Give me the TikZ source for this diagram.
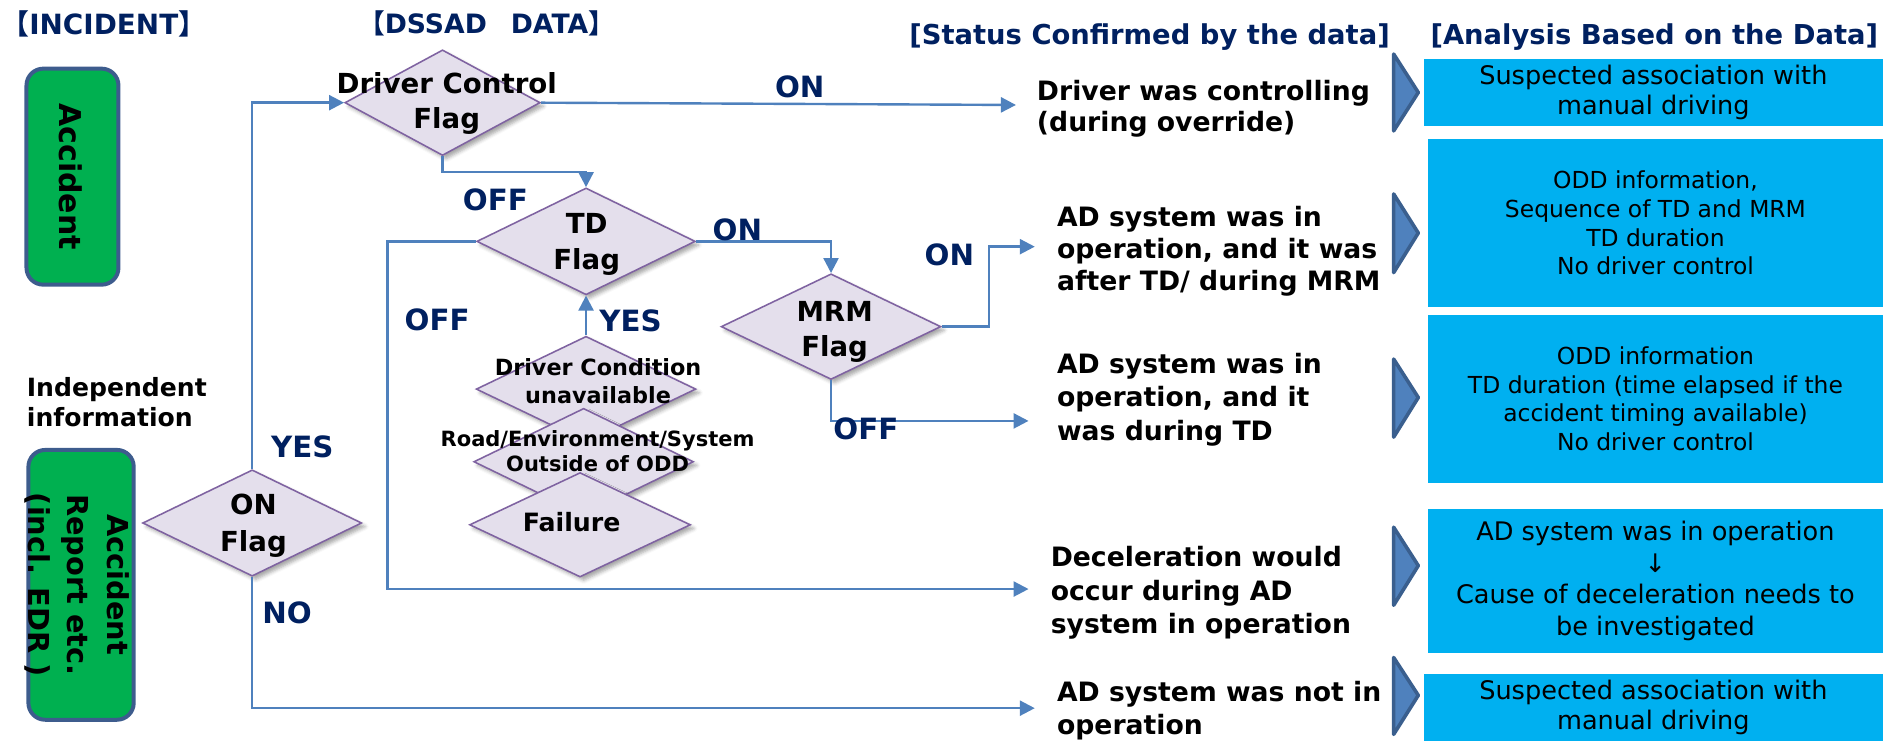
\documentclass[tikz,border=0pt]{standalone}
\usepackage{fontspec}
\setmainfont{DejaVu Sans}
\newfontfamily\cjk{Noto Sans CJK JP}
\usetikzlibrary{arrows.meta,shapes.geometric,shadows.blur}
\definecolor{navy}{HTML}{002060}
\definecolor{lineblue}{HTML}{4F81BD}
\definecolor{diafill}{HTML}{E4DFEC}
\definecolor{diaborder}{HTML}{7F63A1}
\definecolor{accgreen}{HTML}{00B050}
\definecolor{accborder}{HTML}{3D5C8D}
\definecolor{cyanbox}{HTML}{00B0F0}
\definecolor{chevfill}{HTML}{4F81BD}
\definecolor{chevborder}{HTML}{3A5F8E}
\newcommand{\fs}[2]{\fontsize{#1}{#2}\selectfont}
\begin{document}
\begin{tikzpicture}[x=1pt,y=-1pt,
  conn/.style={draw=lineblue,line width=2pt},
  arr/.style={conn,-{Triangle[length=12.5pt,width=12.5pt]}},
  dia/.style={diamond,draw=diaborder,fill=diafill,line width=1.3pt,inner sep=0pt,
     blur shadow={shadow xshift=3pt,shadow yshift=-3pt,shadow blur radius=3pt,shadow opacity=35}},
  dlab/.style={align=center,anchor=base,inner sep=0pt},
  flab/.style={text=navy,font=\bfseries\fs{24.4}{28},anchor=base,inner sep=0pt},
  stat/.style={font=\bfseries\fs{22.2}{27},align=left,anchor=base west,inner sep=0pt},
  abox/.style={fill=cyanbox,inner sep=0pt,align=center},
  chev/.style={fill=chevfill,draw=chevborder,line width=3pt,line join=round},
  accbox/.style={fill=accgreen,draw=accborder,line width=3.3pt,rounded corners=14pt,inner sep=0pt},
  title/.style={text=navy,font=\bfseries\fs{22.8}{27},anchor=base west,inner sep=0pt}
]
\useasboundingbox (0,0) rectangle (1568,619);

% titles
\node[title,font=\bfseries\fs{23.2}{27}] (tinc) at (1,29) {{\cjk 【}INCIDENT{\cjk 】}};
\node[title,font=\bfseries\fs{22.2}{27}] (tdss) at (298,27.8) {{\cjk 【}DSSAD\hspace{0.9em}DATA{\cjk 】}};
\node[title] (tstat) at (757,37) {[Status Confirmed by the data]};
\node[title] (tana) at (1191,37) {[Analysis Based on the Data]};

% incident boxes
\node[accbox,minimum width=76.6pt,minimum height=179.9pt] (acc) at (60.35,147.1) {};
\node[rotate=-90,font=\bfseries\fs{25}{30},inner sep=0pt] (acct) at (58.6,147) {Accident};
\node[accbox,minimum width=87.7pt,minimum height=224.7pt] (rep) at (67.5,487) {};
\node[rotate=-90,font=\bfseries\fs{24}{33},align=center,inner sep=0pt] (rept) at (64,487) {Accident\\Report etc.\\(incl. EDR )};
\node[font=\bfseries\fs{20.9}{25.5},align=left,anchor=base west,inner sep=0pt] (indep) at (22.2,355.3) {Independent\\information};

% diamonds
\node[dia,minimum width=182.5pt,minimum height=88.6pt] (on) at (210,435.5) {};
\node[dia,minimum width=162.7pt,minimum height=88pt] (dc) at (368.5,85.5) {};
\node[dia,minimum width=182pt,minimum height=89pt] (td) at (488,201) {};
\node[dia,minimum width=183pt,minimum height=88pt] (mrm) at (692,272) {};
\node[dia,minimum width=183pt,minimum height=88pt] (dcond) at (488,324) {};
\node[dia,minimum width=183pt,minimum height=89pt] (road) at (486,384.5) {};
\node[dia,minimum width=184pt,minimum height=87pt] (fail) at (483,437) {};

% helper coordinates
\coordinate (k1) at (0,143);
\coordinate (k2) at (823.5,0);
\coordinate (k3) at (322.7,490.5);
\coordinate (a1) at (846,87.4);
\coordinate (a2) at (861.7,205.4);
\coordinate (a3) at (856.5,350.5);
\coordinate (a4) at (856.5,490.5);
\coordinate (a5) at (861.7,589.7);

% connectors
\draw[arr] (on.north) |- (dc.west);
\draw[arr] (on.south) |- (a5);
\draw[arr] (dc.east) -- (a1);
\draw[arr] (dc.south) -- (dc.south |- k1) -- (td.north |- k1) -- (td.north);
\draw[arr] (td.east) -| (mrm.north);
\draw[arr] (mrm.east) -- (mrm.east -| k2) -- (k2 |- a2) -- (a2);
\draw[arr] (mrm.south) |- (a3);
\draw[arr] (td.west) -| (k3) -- (a4);
\draw[arr] (dcond.north) -- (td.south);

% diamond labels (anchor = baseline of last line)
\node[dlab,font=\bfseries\fs{23}{29.3}] (dcl) at (372,107) {Driver Control\\Flag};
\node[dlab,font=\bfseries\fs{23}{30.5}] (tdl) at (488.5,224.8) {TD\\Flag};
\node[dlab,font=\bfseries\fs{23}{29}] (mrml) at (695,296.9) {MRM\\Flag};
\node[dlab,font=\bfseries\fs{23}{30.6}] (onl) at (211,459.4) {ON\\Flag};
\node[dlab,font=\bfseries\fs{18.6}{23.6}] (dcondl) at (498,335.9) {Driver Condition\\unavailable};
\node[dlab,font=\bfseries\fs{17.5}{20.8}] (roadl) at (497.6,392.8) {Road/Environment/System\\Outside of ODD};
\node[dlab,font=\bfseries\fs{21}{25}] (faill) at (476,442.7) {Failure};

% flow labels
\node[flab] (lyes1) at (251.8,381) {YES};
\node[flab] (lno) at (239,519) {NO};
\node[flab] (loff1) at (412.5,175) {OFF};
\node[flab] (loff2) at (364,275) {OFF};
\node[flab] (lyes2) at (525,276) {YES};
\node[flab] (lon1) at (666,81) {ON};
\node[flab] (lon2) at (614,200) {ON};
\node[flab] (lon3) at (790.5,220.7) {ON};
\node[flab] (loff3) at (721,366) {OFF};

% status texts (anchor = baseline of last line)
\node[stat,font=\bfseries\fs{22.2}{26.4}] (s1) at (863.3,109.7) {Driver was controlling\\(during override)};
\node[stat,font=\bfseries\fs{22.2}{26.6}] (s2) at (880,241.5) {AD system was in\\operation, and it was\\after TD/ during MRM};
\node[stat,font=\bfseries\fs{22.2}{27.7}] (s3) at (880,366.4) {AD system was in\\operation, and it\\was during TD};
\node[stat,font=\bfseries\fs{22.2}{27.7}] (s4) at (874.8,527.4) {Deceleration would\\occur during AD\\system in operation};
\node[stat,font=\bfseries\fs{22.2}{27.7}] (s5) at (880,612) {AD system was not in\\operation};

% chevrons
\draw[chev] (1160.5,45) -- (1181,77) -- (1160.5,109) -- cycle;
\draw[chev] (1160.5,161.5) -- (1181,194) -- (1160.5,227) -- cycle;
\draw[chev] (1160.5,299) -- (1181,331) -- (1160.5,364) -- cycle;
\draw[chev] (1160.5,439) -- (1181,471) -- (1160.5,504) -- cycle;
\draw[chev] (1160.5,547.5) -- (1181,579) -- (1160.5,611.5) -- cycle;

% analysis boxes
\node[abox,font=\fs{21.3}{25.5},minimum width=382.5pt,minimum height=56pt] (b1) at (1376.75,77) {Suspected association with\\manual driving};
\node[abox,font=\fs{19.5}{24},minimum width=379pt,minimum height=139.6pt] (b2) at (1378.5,185.6) {ODD information,\\Sequence of TD and MRM\\TD duration\\No driver control};
\node[abox,font=\fs{19.5}{24},minimum width=379pt,minimum height=140pt] (b3) at (1378.5,332) {ODD information\\TD duration (time elapsed if the\\accident timing available)\\No driver control};
\node[abox,font=\fs{21.3}{26.3},minimum width=379pt,minimum height=119.5pt] (b4) at (1378.5,483.75) {AD system was in operation\\↓\\Cause of deceleration needs to\\be investigated};
\node[abox,font=\fs{21.3}{25.5},minimum width=382.5pt,minimum height=56pt] (b5) at (1376.75,589) {Suspected association with\\manual driving};
\end{tikzpicture}
\end{document}
